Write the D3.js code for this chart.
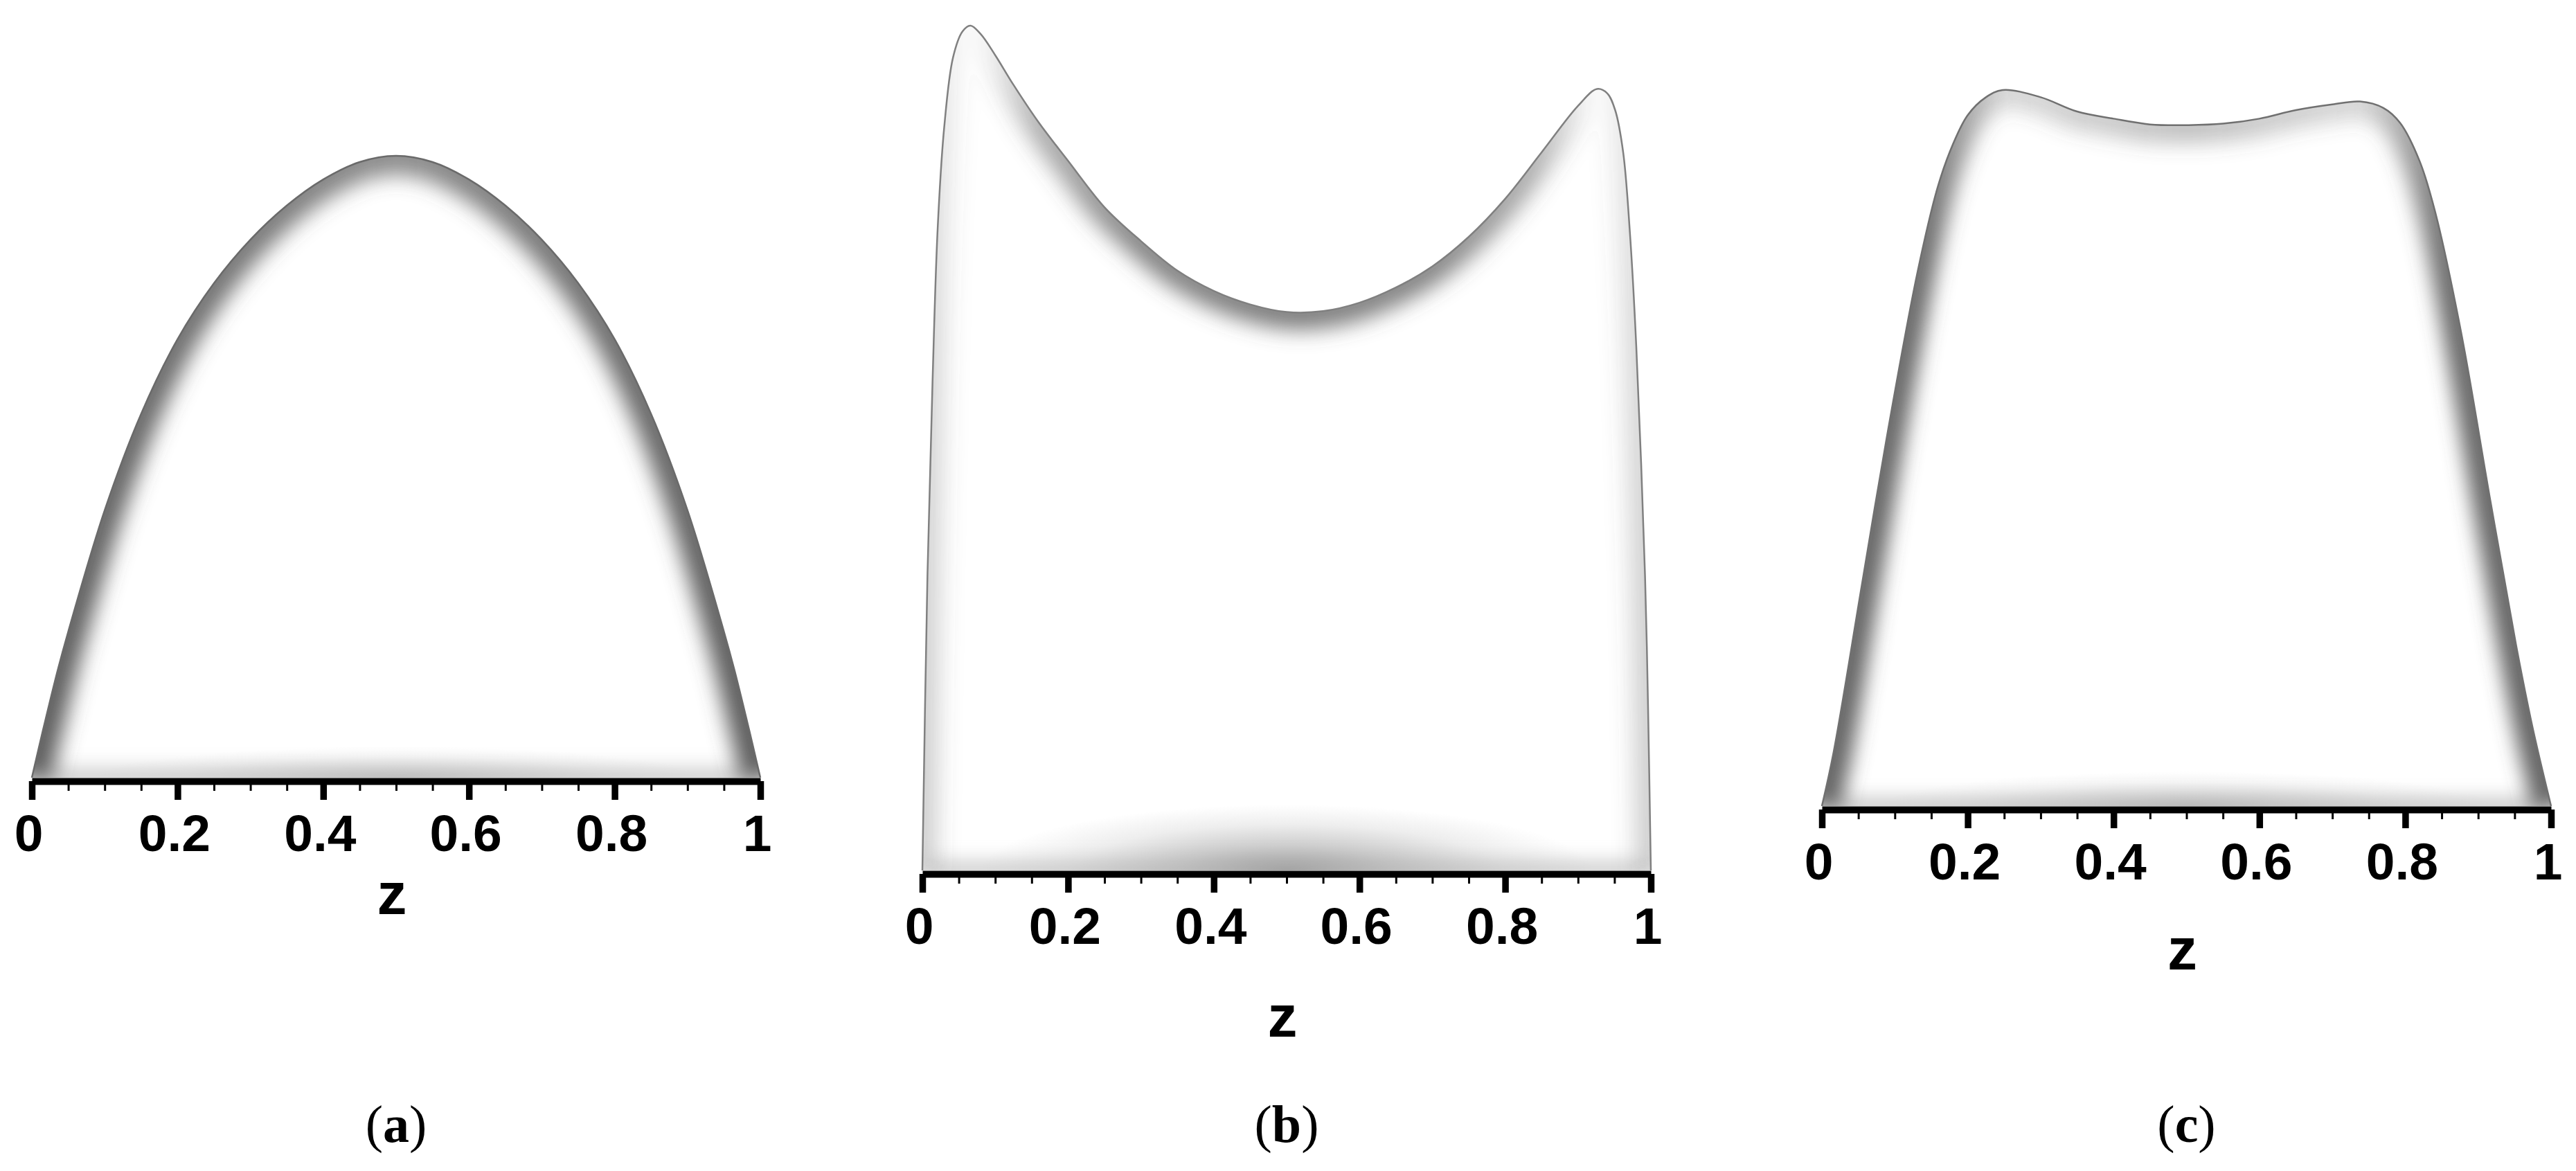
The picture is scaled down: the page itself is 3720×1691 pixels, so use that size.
<!DOCTYPE html>
<html>
<head>
<meta charset="utf-8">
<script src="https://cdn.jsdelivr.net/npm/d3@7"></script>
<style>
	html, body { margin: 0; padding: 0; background: #fff; }
	svg { display: block; }
</style>
</head>
<body>
<svg id="chart"></svg>
<script>
// profile (a): z positions and height, height scaled so the peak is 1
const zA = [0, 0.015, 0.036, 0.05, 0.1, 0.15, 0.2, 0.25, 0.3, 0.35, 0.4, 0.45, 0.5,
	0.55, 0.6, 0.65, 0.7, 0.75, 0.8, 0.85, 0.9, 0.95, 0.964, 0.985, 1];
const uA = [0, 0.075, 0.175, 0.235, 0.43, 0.585, 0.705, 0.795, 0.865, 0.92, 0.962, 0.99, 1,
	0.99, 0.962, 0.92, 0.865, 0.795, 0.705, 0.585, 0.43, 0.235, 0.175, 0.075, 0];

// profile (b)
const zB = [0, 0.007, 0.014, 0.021, 0.03, 0.042, 0.055, 0.066, 0.08, 0.1, 0.125, 0.16, 0.2,
	0.25, 0.3, 0.35, 0.4, 0.45, 0.5, 0.55, 0.6, 0.65, 0.7, 0.75, 0.8, 0.85, 0.9, 0.926,
	0.94, 0.951, 0.962, 0.971, 0.98, 0.992, 0.996, 1];
const uB = [0, 0.35, 0.58, 0.76, 0.88, 0.962, 0.993, 1, 0.99, 0.965, 0.93, 0.885, 0.84,
	0.785, 0.745, 0.71, 0.686, 0.67, 0.661, 0.662, 0.672, 0.69, 0.715, 0.75, 0.795, 0.85, 0.905, 0.925,
	0.92, 0.9, 0.85, 0.758, 0.62, 0.349, 0.2, 0];

// profile (c)
const zC = [0, 0.016, 0.055, 0.089, 0.131, 0.159, 0.18, 0.2, 0.225, 0.248, 0.3, 0.35,
	0.4, 0.45, 0.503, 0.55, 0.6, 0.65, 0.7, 0.738, 0.77, 0.793, 0.82, 0.841, 0.876, 0.917,
	0.952, 0.975, 1];
const uC = [0, 0.075, 0.31, 0.515, 0.745, 0.865, 0.925, 0.965, 0.99, 1, 0.99, 0.97,
	0.96, 0.952, 0.951, 0.953, 0.96, 0.972, 0.98, 0.984, 0.975, 0.954, 0.9, 0.83, 0.665, 0.425,
	0.225, 0.108, 0];

const majorTicks = [0, 0.2, 0.4, 0.6, 0.8, 1];
const tickLabels = ['0', '0.2', '0.4', '0.6', '0.8', '1'];
const minorTicks = [0, 0.05, 0.1, 0.15, 0.2, 0.25, 0.3, 0.35, 0.4, 0.45, 0.5,
	0.55, 0.6, 0.65, 0.7, 0.75, 0.8, 0.85, 0.9, 0.95, 1];
const axisTitle = 'z';
const captions = ['a', 'b', 'c'];

const width = 3720, height = 1691;

const panels = [
	{
		id: 'a', z: zA, u: uA, left: 46, right: 1098, axisY: 1123, topY: 225, titleY: 197,
		rimColor: '#555', rimWidth: 56, blur: 15,
		rimStops: [[0, 0.95], [0.25, 0.8], [0.5, 0.65], [0.75, 0.8], [1, 0.95]],
		edge: '#6a6a6a', floor: '#aaa', baseRy: 45, baseOpacity: 0.35
	},
	{
		id: 'b', z: zB, u: uB, left: 1332, right: 2384, axisY: 1257, topY: 37, titleY: 240,
		rimColor: '#555', rimWidth: 50, blur: 15,
		rimStops: [[0, 0.3], [0.03, 0.12], [0.066, 0], [0.1, 0.12], [0.16, 0.45], [0.3, 0.7],
			[0.5, 0.75], [0.7, 0.7], [0.84, 0.45], [0.9, 0.12], [0.926, 0], [0.96, 0.12], [1, 0.3]],
		edge: '#808080', floor: '#aaa', baseRy: 95, baseOpacity: 0.7
	},
	{
		id: 'c', z: zC, u: uC, left: 2631, right: 3684, axisY: 1164, topY: 130, titleY: 236,
		rimColor: '#555', rimWidth: 54, blur: 14,
		rimStops: [[0, 0.9], [0.14, 0.85], [0.2, 0.5], [0.25, 0.22], [0.5, 0.35], [0.74, 0.22],
			[0.8, 0.5], [0.86, 0.85], [1, 0.9]],
		edge: '#707070', floor: '#aaa', baseRy: 50, baseOpacity: 0.4
	}
];

function drawPanel(svg, defs, p, i) {
	const x = d3.scaleLinear().domain([0, 1]).range([p.left, p.right]);
	const y = d3.scaleLinear().domain([0, 1]).range([p.axisY, p.topY]);
	const pts = p.z.map((z, k) => [z, p.u[k]]);

	const curve = d3.curveCatmullRom.alpha(0.5);
	const line = d3.line().x(d => x(d[0])).y(d => y(d[1])).curve(curve);
	const area = d3.area().x(d => x(d[0])).y0(y(0)).y1(d => y(d[1])).curve(curve);

	defs.append('clipPath').attr('id', 'clip-' + p.id)
		.append('path').attr('d', area(pts));

	const grad = defs.append('linearGradient').attr('id', 'rim-' + p.id)
		.attr('gradientUnits', 'userSpaceOnUse')
		.attr('x1', p.left).attr('x2', p.right).attr('y1', 0).attr('y2', 0);
	grad.selectAll('stop').data(p.rimStops).enter().append('stop')
		.attr('offset', d => d[0])
		.attr('stop-color', p.rimColor)
		.attr('stop-opacity', d => d[1]);

	const base = defs.append('radialGradient').attr('id', 'base-' + p.id);
	base.selectAll('stop').data([[0, 1], [0.35, 0.55], [0.7, 0.18], [1, 0]]).enter().append('stop')
		.attr('offset', d => d[0])
		.attr('stop-color', '#777')
		.attr('stop-opacity', d => d[1] * p.baseOpacity);

	defs.append('filter').attr('id', 'blur-' + p.id)
		.attr('filterUnits', 'userSpaceOnUse')
		.attr('x', p.left - 200).attr('y', p.topY - 200)
		.attr('width', p.right - p.left + 400).attr('height', p.axisY - p.topY + 400)
		.append('feGaussianBlur').attr('stdDeviation', p.blur);

	const g = svg.append('g').attr('clip-path', `url(#clip-${p.id})`);

	g.append('path')
		.attr('d', area(pts))
		.attr('fill', '#fff');

	g.append('ellipse')
		.attr('cx', x(0.5)).attr('cy', p.axisY)
		.attr('rx', (p.right - p.left) * 0.42).attr('ry', p.baseRy)
		.attr('fill', `url(#base-${p.id})`);

	g.append('path')
		.attr('d', `M${p.left},${p.axisY}H${p.right}`)
		.attr('stroke', p.floor)
		.attr('stroke-width', 16)
		.attr('filter', `url(#blur-${p.id})`);

	g.append('path')
		.attr('d', line(pts))
		.attr('fill', 'none')
		.attr('stroke', `url(#rim-${p.id})`)
		.attr('stroke-width', p.rimWidth)
		.attr('filter', `url(#blur-${p.id})`);

	svg.append('path')
		.attr('d', line(pts))
		.attr('fill', 'none')
		.attr('stroke', p.edge)
		.attr('stroke-width', 2.5);

	// minor ticks
	const minor = svg.append('g')
		.attr('transform', `translate(0,${p.axisY + 5})`)
		.call(d3.axisBottom(x).tickValues(minorTicks).tickSize(14).tickSizeOuter(0).tickFormat(''));
	minor.select('.domain').remove();
	minor.selectAll('.tick line').attr('stroke', '#000').attr('stroke-width', 3);

	// major ticks, labels and the thick axis line
	const major = svg.append('g')
		.attr('transform', `translate(0,${p.axisY + 5})`)
		.call(d3.axisBottom(x).tickValues(majorTicks).tickSize(27).tickSizeOuter(0)
			.tickFormat((d, k) => tickLabels[k]));
	major.attr('font-family', '"Liberation Sans", Arial, sans-serif')
		.attr('font-size', 75)
		.attr('font-weight', 'bold');
	major.select('.domain').attr('stroke', '#000').attr('stroke-width', 10);
	major.selectAll('.tick line').attr('stroke', '#000').attr('stroke-width', 9.5);
	major.selectAll('.tick text')
		.attr('fill', '#000')
		.attr('y', 101).attr('dy', 0).attr('dx', -5);

	svg.append('text')
		.attr('x', x(0.5) - 6)
		.attr('y', p.axisY + p.titleY)
		.attr('text-anchor', 'middle')
		.attr('font-family', '"Liberation Sans", Arial, sans-serif')
		.attr('font-weight', 'bold')
		.attr('font-size', 86)
		.text(axisTitle);

	const cap = svg.append('text')
		.attr('x', x(0.5))
		.attr('y', 1649)
		.attr('text-anchor', 'middle')
		.attr('font-family', '"Liberation Serif", "Times New Roman", serif')
		.attr('font-size', 76);
	cap.append('tspan').text('(');
	cap.append('tspan').attr('font-weight', 'bold').text(captions[i]);
	cap.append('tspan').text(')');
}

const svg = d3.select('#chart').attr('width', width).attr('height', height);
svg.append('rect').attr('width', width).attr('height', height).attr('fill', '#fff');
const defs = svg.append('defs');
panels.forEach((p, i) => drawPanel(svg, defs, p, i));
</script>
</body>
</html>
